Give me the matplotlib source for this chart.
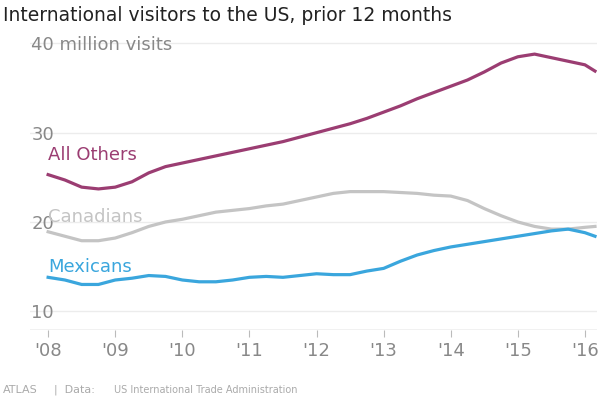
import numpy as np
import matplotlib.pyplot as plt

years = [2008.0, 2008.25, 2008.5, 2008.75, 2009.0, 2009.25, 2009.5, 2009.75,
         2010.0, 2010.25, 2010.5, 2010.75, 2011.0, 2011.25, 2011.5, 2011.75,
         2012.0, 2012.25, 2012.5, 2012.75, 2013.0, 2013.25, 2013.5, 2013.75,
         2014.0, 2014.25, 2014.5, 2014.75, 2015.0, 2015.25, 2015.5, 2015.75,
         2016.0, 2016.15]
others = [25.3, 24.7, 23.9, 23.7, 23.9, 24.5, 25.5, 26.2, 26.6, 27.0, 27.4, 27.8,
          28.2, 28.6, 29.0, 29.5, 30.0, 30.5, 31.0, 31.6, 32.3, 33.0, 33.8, 34.5,
          35.2, 35.9, 36.8, 37.8, 38.5, 38.8, 38.4, 38.0, 37.6, 36.9]
canadians = [18.9, 18.4, 17.9, 17.9, 18.2, 18.8, 19.5, 20.0, 20.3, 20.7, 21.1, 21.3,
             21.5, 21.8, 22.0, 22.4, 22.8, 23.2, 23.4, 23.4, 23.4, 23.3, 23.2, 23.0,
             22.9, 22.4, 21.5, 20.7, 20.0, 19.5, 19.2, 19.2, 19.4, 19.5]
mexicans = [13.8, 13.5, 13.0, 13.0, 13.5, 13.7, 14.0, 13.9, 13.5, 13.3, 13.3, 13.5,
            13.8, 13.9, 13.8, 14.0, 14.2, 14.1, 14.1, 14.5, 14.8, 15.6, 16.3, 16.8,
            17.2, 17.5, 17.8, 18.1, 18.4, 18.7, 19.0, 19.2, 18.8, 18.4]
xticks = list(range(2008, 2017))
xlabels = ["'%02d" % (y % 100) for y in xticks]

fig = plt.figure(figsize=(6, 4), dpi=100)
ax = fig.add_axes([0.05, 0.175, 0.945, 0.75])
c_oth, c_can, c_mex = "#9b3d72", "#c4c4c4", "#3aa6dd"
ax.plot(years, others, color=c_oth, lw=2.3)
ax.plot(years, canadians, color=c_can, lw=2.3)
ax.plot(years, mexicans, color=c_mex, lw=2.3)

ax.set_xlim(2007.73, 2016.18)
ax.set_ylim(7.9, 41.5)
ax.set_yticks([10, 20, 30, 40])
ax.set_yticklabels(["10", "20", "30", "40 million visits"])
ax.set_xticks(xticks)
ax.set_xticklabels(xlabels)
ax.grid(axis="y", color="#ececec", lw=1)
ax.set_axisbelow(True)
for s in ax.spines.values():
    s.set_visible(False)
ax.tick_params(axis="y", length=0, labelsize=13, labelcolor="#888888", pad=-1)
for lab in ax.get_yticklabels():
    lab.set_horizontalalignment("left")
ax.tick_params(axis="x", length=5, color="#bbbbbb", labelsize=13, labelcolor="#888888")
ax.axhline(7.9, color="#bbbbbb", lw=1)

ax.text(2008.0, 27.5, "All Others", color=c_oth, fontsize=13, va="center")
ax.text(2008.0, 20.5, "Canadians", color=c_can, fontsize=13, va="center")
ax.text(2008.0, 15.0, "Mexicans", color=c_mex, fontsize=13, va="center")

fig.text(0.005, 0.962, "International visitors to the US, prior 12 months",
         fontsize=13.5, color="#222222", va="center")
fig.text(0.005, 0.025, "ATLAS", fontsize=8, color="#aaaaaa", va="center")
fig.text(0.09, 0.025, "|  Data:", fontsize=8, color="#aaaaaa", va="center")
fig.text(0.19, 0.025, "US International Trade Administration", fontsize=7,
         color="#aaaaaa", va="center")
fig.savefig("out.png")
